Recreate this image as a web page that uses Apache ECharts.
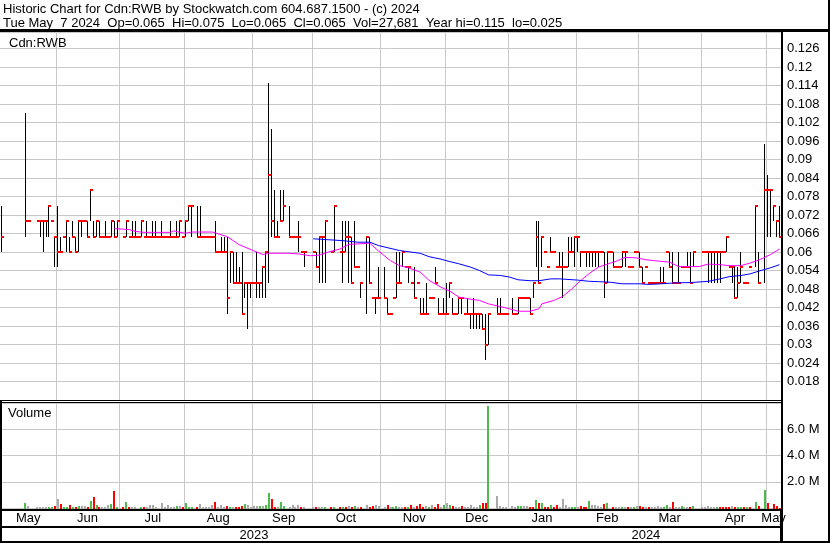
<!DOCTYPE html>
<html><head><meta charset="utf-8">
<script src="https://cdn.jsdelivr.net/npm/echarts/dist/echarts.min.js"></script>
<style>html,body{margin:0;padding:0;background:#fff}#c{width:830px;height:543px}</style>
</head><body><div id="c"></div>
<script>
// ---- categories: one slot per weekday, 2023-05-05 .. 2024-05-07 ----
const firstDay = [2023, 4, 5], lastDay = [2024, 4, 7];
const monthNames = ['Jan','Feb','Mar','Apr','May','Jun','Jul','Aug','Sep','Oct','Nov','Dec'];

// ---- daily high / low / close (null = no trade) ----
const highs = [
.075,null,null,null,null,null,null,null,.105,.07,
null,null,.07,.07,.07,.07,.075,.07,.065,.075,
.065,.065,.07,.065,.07,.065,.07,.07,.07,.07,
.08,.07,.07,.07,.065,.07,.065,.07,.07,.07,
null,.065,.07,.065,.07,.07,.065,.07,.065,.07,
.065,.07,.07,.065,.07,.065,.065,.07,.065,.07,
.07,.065,.07,.075,.075,null,.075,.075,.065,.065,
.065,.065,.07,.06,.065,.065,.065,.06,.06,.06,
.055,.06,.05,.05,.05,.05,.06,.05,.055,.06,
.115,.1,.08,.07,.08,.08,null,.075,.065,.065,
.07,.06,.06,null,null,.06,.06,.065,.065,.07,
null,.06,.075,null,.06,.07,.07,.07,.065,.07,
.055,.05,null,.065,.065,.045,.045,.055,null,.055,
.045,.04,.045,.06,.06,.06,.055,.055,.05,.055,
.05,.045,.045,.05,.045,.045,.055,.045,.04,.045,
.05,.05,.045,.04,.045,.045,.04,.045,.04,.045,
.04,.04,.04,.04,.04,null,null,.045,.045,.04,
.04,null,.045,.04,.045,.045,.045,.045,.045,.05,
.07,.07,.065,.06,.055,.065,.06,.055,.06,.06,
.055,.065,.065,.065,.065,.06,.06,.06,.06,.06,
.06,.06,.06,.06,.06,.06,.06,.055,.055,.06,
.06,.055,.055,.06,.06,.06,.055,.055,.05,.05,
.05,.05,.055,.055,.06,.06,.06,.05,.06,.055,
.055,.06,.06,.06,null,null,.06,.06,.06,.06,
.06,.06,.06,.06,.065,.055,.055,.055,.055,.06,
.05,.05,.055,null,.075,.06,null,.095,.085,.08,
.075,.07,.075];
const lows = [
.06,null,null,null,null,null,null,null,.065,.07,
null,null,.07,.065,.06,.065,.065,.07,.055,.055,
.06,.065,.06,.06,.065,.06,.06,.065,.07,.065,
.07,.065,.065,.065,.065,.065,.065,.065,.065,.065,
null,.065,.065,.065,.065,.065,.065,.065,.065,.065,
.065,.065,.065,.065,.065,.065,.065,.065,.065,.065,
.065,.065,.065,.07,.065,null,.065,.065,.065,.065,
.065,.065,.06,.06,.06,.06,.04,.05,.05,.05,
.05,.04,.045,.035,.045,.05,.045,.045,.045,.045,
.05,.065,.065,.065,.07,.07,null,.065,.065,.065,
.06,.06,.055,null,null,.06,.055,.05,.05,.05,
null,.06,.06,null,.06,.05,.06,.05,.05,.055,
.055,.045,null,.04,.05,.045,.04,.045,null,.045,
.04,.04,.045,.045,.05,.055,.055,.05,.05,.045,
.05,.04,.04,.04,.045,.045,.05,.04,.04,.04,
.04,.045,.04,.04,.04,.04,.04,.04,.035,.035,
.035,.035,.035,.025,.03,null,null,.04,.04,.04,
.04,null,.04,.04,.04,.045,.045,.045,.04,.045,
.055,.05,.055,.06,.055,.06,.06,.055,.055,.045,
.055,.055,.06,.055,.06,.055,.06,.055,.055,.055,
.055,.055,.06,.045,.05,.06,.055,.055,.055,.055,
.055,.055,.055,.06,.06,.055,.05,.055,.05,.05,
.05,.05,.05,.05,.06,.055,.05,.05,.05,.055,
.055,.055,.05,.055,null,null,.06,.06,.05,.05,
.05,.05,.05,.06,.06,.055,.05,.045,.045,.05,
.05,.05,.055,null,.055,.05,null,.05,.065,.065,
.07,.065,.065];
const closes = [
.065,null,null,null,null,null,null,null,.07,.07,
null,null,.07,.07,.07,.07,.075,.07,.065,.06,
.06,.065,.07,.06,.065,.06,.07,.07,.07,.065,
.08,.065,.07,.065,.065,.065,.065,.07,.065,.07,
null,.065,.07,.065,.065,.065,.065,.07,.065,.065,
.065,.065,.065,.065,.065,.065,.065,.065,.065,.065,
.07,.065,.07,.075,.075,null,.065,.065,.065,.065,
.065,.065,.06,.06,.06,.06,.045,.06,.05,.05,
.05,.04,.05,.05,.05,.05,.05,.05,.055,.06,
.085,.07,.065,.065,.07,.075,null,.065,.065,.065,
.065,.06,.06,null,null,.06,.055,.065,.065,.07,
null,.06,.075,null,.06,.06,.065,.065,.05,.055,
.055,.05,null,.065,.05,.045,.045,.045,null,.045,
.04,.04,.045,.05,.05,.06,.055,.055,.05,.045,
.05,.04,.04,.04,.045,.045,.05,.04,.04,.04,
.04,.05,.04,.04,.045,.045,.04,.04,.04,.04,
.04,.04,.035,.03,.04,null,null,.04,.04,.04,
.04,null,.04,.04,.045,.045,.045,.045,.04,.05,
.065,.05,.065,.06,.055,.06,.06,.055,.055,.055,
.055,.06,.06,.065,.065,.06,.06,.06,.06,.06,
.06,.06,.06,.05,.06,.06,.055,.055,.055,.06,
.06,.055,.055,.06,.06,.055,.05,.055,.05,.05,
.05,.05,.05,.05,.06,.055,.05,.05,.05,.055,
.055,.055,.05,.06,null,null,.06,.06,.06,.06,
.06,.06,.06,.06,.065,.055,.055,.045,.05,.055,
.05,.05,.055,null,.075,.05,null,.08,.08,.08,
.075,.07,.065];
// ---- daily volume, thousands of shares ----
const volumes = [
150,0,0,0,0,0,0,0,380,150,
0,0,80,80,80,80,80,80,150,700,
300,80,80,230,80,80,150,150,150,80,
540,850,230,80,80,80,230,300,1300,80,
0,80,460,80,80,80,0,80,80,80,
230,230,80,0,380,80,230,80,80,150,
150,80,380,80,80,0,80,300,80,80,
80,230,460,80,230,80,150,80,80,80,
80,150,300,230,80,150,150,150,150,230,
1150,700,80,80,460,150,0,80,230,80,
230,80,80,0,0,80,80,80,80,80,
0,80,80,0,80,80,80,150,80,150,
80,80,0,230,80,150,230,150,0,80,
230,80,80,150,80,80,80,80,230,80,
150,300,80,150,80,230,80,300,80,230,
380,230,150,80,80,150,80,80,230,80,
80,230,380,380,7800,0,0,920,150,80,
80,0,150,80,150,150,150,150,80,80,
615,385,385,80,80,230,80,230,80,690,
230,80,80,80,80,150,80,80,540,230,
230,150,80,300,385,0,80,80,80,80,
80,80,80,80,150,150,80,80,80,80,
80,150,80,80,230,80,460,80,80,150,
80,80,80,150,0,0,80,80,150,80,
80,80,80,80,80,80,150,80,80,80,
80,80,80,0,460,150,0,1380,385,0,
310,150,28];
// volume bar colour: g = up, r = down, n = unchanged
const volDir = (
'n-------gn'+'--nnnnggrn'+'rggrgrgnnr'+'grgrnnngrg'+'-rgrnn-grn'+
'nnn-nnnnng'+'nrggg-rnnn'+'nnrnnnrgnr'+'rrgnnnngng'+'grrngg-nnn'+
'nrn--nrnng'+'-rg-rgrnrg'+'nr-nrrnn-n'+'rnggnnrgrn'+'rrrngnrrng'+
'ngrnnrnnnn'+'ngrrg--nnn'+'n-nnggnnrr'+'grgrrgrrnn'+'nnggnrrrgn'+
'nnnrg-rnng'+'nrngnrrnrn'+'nnnggnrnng'+'nnrg--nnnn'+'ngrrrrnrgg'+
'rgr-gr-gr-'+'rrr').split('');

// ---- moving averages (slot index, value) ----
const maFastIdx = [38,43,45,48,57,58,60,62,64,71,72,76,78,80,84,87,88,90,97,100,104,107,110,114,117,121,124,127,131,134,137,141,144,148,151,154,158,161,164,168,171,174,178,181,182,186,189,192,195,198,201,205,207,210,214,217,220,225,228,232,235,238,242,245,249,252,255,259,262];
const maFastVal = [.0676,.0673,.0667,.0664,.0664,.0669,.0664,.0661,.0665,.0665,.0662,.065,.0637,.0624,.0608,.0596,.0592,.0596,.0596,.0594,.0588,.059,.06,.061,.0625,.0627,.0629,.0603,.0572,.0556,.0549,.0535,.0508,.0486,.0473,.0454,.0447,.0443,.0432,.0423,.0416,.0408,.0408,.0416,.0432,.0443,.0456,.048,.0507,.0531,.0551,.0564,.057,.0583,.0581,.0575,.0572,.0567,.0553,.0553,.0553,.0561,.0559,.0556,.0556,.0564,.0574,.0592,.061];
const maSlowIdx = [105,110,115,120,124,127,134,141,144,148,151,154,158,161,164,168,171,174,178,181,185,188,194,198,201,205,209,215,218,222,227,232,238,242,245,249,252,255,259,262];
const maSlowVal = [.0643,.064,.0637,.0632,.0632,.0621,.0605,.0596,.0585,.0577,.0569,.0562,.0551,.054,.0526,.0524,.0519,.051,.0507,.0507,.0513,.0513,.0509,.0505,.0504,.0502,.0497,.0497,.0495,.0497,.05,.0501,.0505,.0513,.052,.0524,.0529,.0538,.0549,.0559];

const priceTicks = {min: 0.012, max: 0.1314, step: 0.006};
const volTicks = {min: 0, max: 8e6, step: 2e6};

// ---------- build ----------
const dates = [];
{
  const d = new Date(Date.UTC(firstDay[0], firstDay[1], firstDay[2]));
  const end = Date.UTC(lastDay[0], lastDay[1], lastDay[2]);
  while (d.getTime() <= end) {
    const wd = d.getUTCDay();
    if (wd !== 0 && wd !== 6) dates.push(d.toISOString().slice(0, 10));
    d.setUTCDate(d.getUTCDate() + 1);
  }
}
const N = dates.length;
const monthStart = [];
const yearStart = [];
for (let i = 1; i < N; i++) {
  if (dates[i].slice(5, 7) !== dates[i - 1].slice(5, 7)) {
    monthStart.push(dates[i].slice(8, 10) === '01' ? i : i - 1);
  }
  if (dates[i].slice(0, 4) !== dates[i - 1].slice(0, 4)) yearStart.push(i);
}
const monthStartSet = new Set(monthStart);
const yearStartSet = new Set(yearStart);
const mb = [0, ...monthStart, N];
const monthLabelSet = new Set();
for (let k = 0; k < mb.length - 1; k++) monthLabelSet.add(Math.floor((mb[k] + mb[k + 1]) / 2));
const yb = [0, ...yearStart, N];
const yearLabelSet = new Set();
for (let k = 0; k < yb.length - 1; k++) yearLabelSet.add(Math.floor((yb[k] + yb[k + 1]) / 2));

const hlcData = [];
for (let i = 0; i < N; i++) if (highs[i] != null) hlcData.push([i, highs[i], lows[i], closes[i]]);
const volData = [];
for (let i = 0; i < N; i++) if (volumes[i] > 0) volData.push([i, volumes[i] * 1000]);
const volColors = {g: '#4fbb4f', r: '#ff0000', n: '#a9a9a9'};

const FONT = '"Liberation Sans", Arial, sans-serif';
const gridColor = '#c8c8c8';

const chart = echarts.init(document.getElementById('c'), null, {renderer: 'canvas'});
chart.setOption({
  animation: false,
  backgroundColor: '#fff',
  grid: [
    {left: 0, right: 49, top: 32, height: 368},
    {left: 0, right: 49, top: 403, height: 105}
  ],
  xAxis: [
    {type: 'category', data: dates, gridIndex: 0, axisLine: {show: false}, axisTick: {show: false}, axisLabel: {show: false},
     splitLine: {show: true, interval: (i) => monthStartSet.has(i), lineStyle: {color: gridColor, width: 1}}},
    {type: 'category', data: dates, gridIndex: 1, offset: 1, axisLine: {show: false},
     axisTick: {show: true, interval: (i) => yearStartSet.has(i), length: 18, lineStyle: {color: '#000', width: 2}},
     axisLabel: {show: true, interval: (i) => monthLabelSet.has(i), formatter: (v) => monthNames[+v.slice(5, 7) - 1],
       color: '#000', fontSize: 13, fontFamily: FONT, margin: 3},
     splitLine: {show: true, interval: (i) => monthStartSet.has(i), lineStyle: {color: gridColor, width: 1}}},
    {type: 'category', data: dates, gridIndex: 1, offset: 19, position: 'bottom', axisLine: {show: false},
     axisTick: {show: true, interval: (i) => yearStartSet.has(i), length: 15, lineStyle: {color: '#000', width: 2}},
     axisLabel: {show: true, interval: (i) => yearLabelSet.has(i), formatter: (v) => v.slice(0, 4),
       color: '#000', fontSize: 13, fontFamily: FONT, margin: 2},
     splitLine: {show: false}}
  ],
  yAxis: [
    {type: 'value', gridIndex: 0, position: 'right', min: priceTicks.min, max: priceTicks.max, interval: priceTicks.step,
     axisLine: {show: false}, axisTick: {show: false},
     axisLabel: {margin: 6, color: '#000', fontSize: 13, fontFamily: FONT,
       formatter: (v) => (v > 0.0155 && v < 0.1275) ? String(+v.toFixed(3)) : ''},
     splitLine: {show: true, lineStyle: {color: gridColor, width: 1}}},
    {type: 'value', gridIndex: 1, position: 'right', min: volTicks.min, max: volTicks.max, interval: volTicks.step,
     axisLine: {show: false}, axisTick: {show: false},
     axisLabel: {margin: 6, color: '#000', fontSize: 13, fontFamily: FONT,
       formatter: (v) => (v > 0 && v < 7e6) ? (v / 1e6).toFixed(1) + ' M' : ''},
     splitLine: {show: true, lineStyle: {color: gridColor, width: 1}}}
  ],
  series: [
    {type: 'custom', xAxisIndex: 0, yAxisIndex: 0, data: hlcData, encode: {x: 0, y: [1, 2, 3]}, z: 3,
     renderItem: function (params, api) {
       const i = api.value(0);
       const pH = api.coord([i, api.value(1)]);
       const pL = api.coord([i, api.value(2)]);
       const pC = api.coord([i, api.value(3)]);
       const x = Math.round(pH[0] - 0.5);
       const children = [];
       if (Math.abs(pL[1] - pH[1]) >= 1) {
         children.push({type: 'line', shape: {x1: x + 0.5, y1: Math.round(pH[1]), x2: x + 0.5, y2: Math.round(pL[1])},
           style: {stroke: '#000', lineWidth: 1}});
       }
       children.push({type: 'rect', shape: {x: x, y: Math.round(pC[1]) - 1, width: 3, height: 2}, style: {fill: '#ff0000'}});
       return {type: 'group', children: children};
     }},
    {type: 'line', xAxisIndex: 0, yAxisIndex: 0, z: 4, showSymbol: false, symbol: 'none',
     data: maFastIdx.map((i, k) => [i, maFastVal[k]]), lineStyle: {color: '#ff00ff', width: 1}},
    {type: 'line', xAxisIndex: 0, yAxisIndex: 0, z: 4, showSymbol: false, symbol: 'none',
     data: maSlowIdx.map((i, k) => [i, maSlowVal[k]]), lineStyle: {color: '#0000ff', width: 1}},
    {type: 'custom', xAxisIndex: 1, yAxisIndex: 1, data: volData, encode: {x: 0, y: 1}, z: 3,
     renderItem: function (params, api) {
       const i = api.value(0);
       const top = api.coord([i, api.value(1)]);
       const base = api.coord([i, 0]);
       const x = Math.round(top[0]) - 1;
       const y1 = Math.round(top[1]);
       const y2 = Math.round(base[1]) + 1;
       return {type: 'rect', shape: {x: x, y: Math.min(y1, y2 - 1), width: 2, height: Math.max(1, y2 - y1)},
         style: {fill: volColors[volDir[i]] || '#a9a9a9'}};
     }}
  ],
  graphic: [
    {type: 'text', x: 3, y: 3, style: {text: 'Historic Chart for Cdn:RWB by Stockwatch.com 604.687.1500 - (c) 2024', fill: '#000', font: '13px ' + FONT, verticalAlign: 'top'}},
    {type: 'text', x: 3, y: 17, style: {text: 'Tue May  7 2024  Op=0.065  Hi=0.075  Lo=0.065  Cl=0.065  Vol=27,681  Year hi=0.115  lo=0.025', fill: '#000', font: '13px ' + FONT, verticalAlign: 'top'}},
    {type: 'text', x: 9, y: 37, z: 10, style: {text: 'Cdn:RWB', fill: '#000', font: '13px ' + FONT, verticalAlign: 'top'}},
    {type: 'text', x: 8, y: 407, z: 10, style: {text: 'Volume', fill: '#000', font: '13px ' + FONT, verticalAlign: 'top'}},
    {type: 'rect', shape: {x: 0, y: 29, width: 830, height: 3}, style: {fill: '#000'}, z: 20},
    {type: 'rect', shape: {x: 0, y: 400, width: 782, height: 1}, style: {fill: '#000'}, z: 20},
    {type: 'rect', shape: {x: 0, y: 402, width: 782, height: 1}, style: {fill: '#000'}, z: 20},
    {type: 'rect', shape: {x: 0, y: 509, width: 782, height: 2}, style: {fill: '#000'}, z: 20},
    {type: 'rect', shape: {x: 0, y: 526, width: 782, height: 2}, style: {fill: '#000'}, z: 20},
    {type: 'rect', shape: {x: 0, y: 541, width: 830, height: 2}, style: {fill: '#000'}, z: 20},
    {type: 'rect', shape: {x: 781, y: 29, width: 2, height: 514}, style: {fill: '#000'}, z: 20},
    {type: 'rect', shape: {x: 828, y: 0, width: 2, height: 543}, style: {fill: '#000'}, z: 20},
    {type: 'rect', shape: {x: 0, y: 400, width: 2, height: 143}, style: {fill: '#000'}, z: 20}
  ]
});
</script></body></html>
